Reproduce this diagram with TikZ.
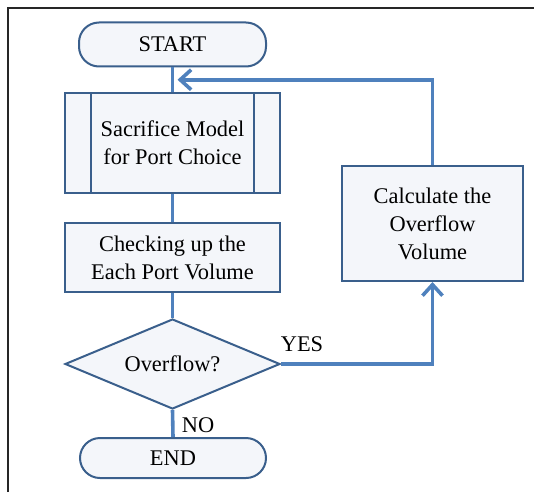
\documentclass[tikz,border=0pt]{standalone}
\usepackage{fontspec}
\setmainfont{Liberation Serif}
\usetikzlibrary{shapes.geometric,arrows.meta,calc}

\definecolor{edgeblue}{RGB}{58,95,140}
\definecolor{flowblue}{RGB}{79,129,189}
\definecolor{boxfill}{RGB}{244,246,250}

\begin{document}
\begin{tikzpicture}[x=0.5pt,y=-0.5pt,
		font=\fontsize{11.2}{14}\selectfont,
		box/.style={draw=edgeblue,fill=boxfill,line width=1pt,align=center,inner sep=0pt},
		term/.style={box,rounded corners=10pt},
		flow/.style={draw=flowblue,line width=1.8pt},
		tip/.style={-{Straight Barb[length=5.5pt,width=10pt,line width=1.8pt]}}]
		\useasboundingbox (0,0) rectangle (534,492);
		\draw[line width=1pt,black!85] (8,492) -- (8,8) -- (534,8);
		% boxes
		\node[term,minimum width=93.5pt,minimum height=22pt] (start) at (172.5,44.5) {START};
		\node[box,minimum width=107.5pt,minimum height=50pt] (sac) at (172.5,143) {Sacrifice Model\\for Port Choice};
		\draw[edgeblue,line width=1pt] ([xshift=13.5pt]sac.north west) -- ([xshift=13.5pt]sac.south west);
		\draw[edgeblue,line width=1pt] ([xshift=-13.5pt]sac.north east) -- ([xshift=-13.5pt]sac.south east);
		\node[box,minimum width=107.5pt,minimum height=34.5pt] (check) at (172.5,257.5) {Checking up the\\Each Port Volume};
		\node[box,diamond,aspect=2.4,minimum width=107.5pt,minimum height=45pt] (dia) at (172.5,364) {Overflow?};
		\node[term,minimum width=93pt,minimum height=20pt] (end) at (173,458) {END};
		\node[box,minimum width=90.5pt,minimum height=57.5pt] (calc) at (432.5,223.5) {Calculate the\\Overflow\\Volume};
		% connectors
		\coordinate (join) at ($(start.south)!0.5!(sac.north)$);
		\draw[flow] (start.south) -- (sac.north);
		\draw[flow] (sac.south) -- (check.north);
		\draw[flow] (check.south) -- (dia.north);
		\draw[flow] (dia.south) -- (end.north);
		\draw[flow,tip] (dia.east) -| (calc.south);
		\draw[flow,tip] (calc.north) |- ([xshift=2.5pt]join);
		\node (yes) at (302,344) {YES};
		\node (no) at (198,425) {NO};
	\end{tikzpicture}
\end{document}
